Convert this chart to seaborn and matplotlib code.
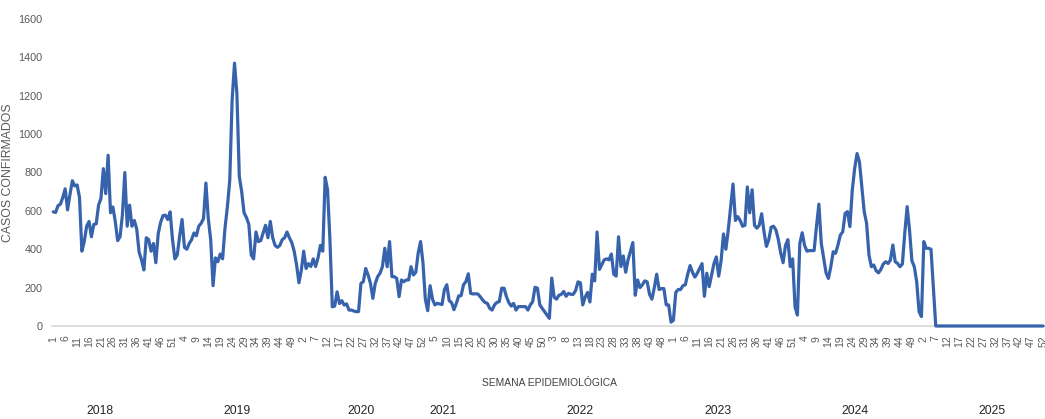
import pandas as pd
import seaborn as sns
import matplotlib.pyplot as plt
from matplotlib import font_manager

# weekly confirmed cases, one list per year (52 epi weeks each)
years = [2018, 2019, 2020, 2021, 2022, 2023, 2024, 2025]

cases_2018 = [595, 592, 627, 635, 670, 715, 605, 685, 757, 730,
              735, 670, 390, 440, 520, 545, 465, 530, 532, 630,
              665, 820, 690, 890, 590, 620, 545, 445, 465, 580,
              800, 520, 630, 520, 550, 505, 385, 345, 292, 460,
              450, 390, 430, 330, 480, 540, 575, 578, 555, 595,
              450, 350]
cases_2019 = [370, 470, 555, 410, 400, 430, 450, 485, 470, 520,
              535, 560, 745, 560, 450, 210, 355, 335, 375, 350,
              510, 620, 760, 1180, 1370, 1210, 780, 700, 590, 565,
              530, 370, 350, 490, 440, 445, 485, 525, 460, 545,
              460, 420, 410, 420, 450, 460, 490, 460, 435, 390,
              320, 225]
cases_2020 = [290, 390, 300, 325, 310, 350, 310, 355, 420, 390,
              775, 710, 450, 100, 104, 178, 117, 132, 109, 115,
              83, 83, 78, 75, 75, 222, 231, 300, 266, 222,
              144, 222, 257, 275, 309, 405, 309, 440, 257, 257,
              248, 153, 240, 231, 240, 240, 309, 266, 280, 380,
              440, 330]
cases_2021 = [140, 80, 210, 140, 110, 118, 115, 112, 190, 215,
              132, 122, 85, 118, 157, 158, 215, 231, 272, 170,
              167, 168, 167, 153, 136, 123, 118, 92, 83, 110,
              123, 127, 197, 197, 153, 122, 104, 118, 83, 101,
              101, 101, 101, 83, 110, 127, 202, 197, 110, 92,
              75, 57]
cases_2022 = [40, 250, 150, 140, 160, 165, 180, 155, 170, 165,
              165, 185, 230, 225, 110, 150, 175, 125, 270, 235,
              490, 295, 320, 345, 350, 345, 375, 270, 260, 465,
              310, 365, 280, 345, 390, 435, 160, 240, 200, 215,
              235, 230, 165, 140, 200, 270, 190, 195, 195, 110,
              110, 20]
cases_2023 = [30, 175, 190, 190, 210, 215, 270, 315, 280, 255,
              275, 300, 325, 155, 275, 205, 265, 325, 360, 260,
              340, 480, 400, 500, 620, 740, 550, 570, 550, 520,
              525, 725, 590, 710, 525, 510, 525, 585, 490, 415,
              450, 515, 520, 500, 450, 380, 330, 420, 450, 310,
              350, 100]
cases_2024 = [57, 430, 486, 420, 390, 393, 393, 393, 521, 635,
              431, 353, 277, 248, 309, 387, 379, 422, 474, 491,
              587, 596, 518, 708, 821, 899, 856, 726, 596, 535,
              370, 309, 318, 288, 277, 295, 323, 335, 326, 344,
              422, 335, 326, 309, 323, 483, 622, 500, 340, 309,
              231, 75]
cases_2025 = [49, 440, 405, 405, 400, 200, 0, 0, 0, 0,
              0, 0, 0, 0, 0, 0, 0, 0, 0, 0,
              0, 0, 0, 0, 0, 0, 0, 0, 0, 0,
              0, 0, 0, 0, 0, 0, 0, 0, 0, 0,
              0, 0, 0, 0, 0, 0, 0, 0, 0, 0,
              0, 0]

all_cases = (cases_2018 + cases_2019 + cases_2020 + cases_2021 +
             cases_2022 + cases_2023 + cases_2024 + cases_2025)
week_labels = [w for _ in years for w in range(1, 53)]

df = pd.DataFrame({'pos': range(len(all_cases)), 'casos': all_cases})

sns.set_style('white')
names = {f.name for f in font_manager.fontManager.ttflist}
narrow = 'Liberation Sans Narrow' if 'Liberation Sans Narrow' in names else 'Liberation Sans'
plt.rcParams['font.family'] = ['Liberation Sans', 'DejaVu Sans']

W, H = 1045, 419
fig = plt.figure(figsize=(W / 100, H / 100), dpi=100)
ax = fig.add_axes([52.3 / W, (H - 326) / H, (W - 52.3) / W, (326 - 19) / H])

sns.lineplot(data=df, x='pos', y='casos', color='#3762AC', linewidth=2.3,
             ax=ax, clip_on=False, zorder=5)

ax.set_xlim(-0.4, 415.8)
ax.set_ylim(0, 1600)

ax.set_xticks(range(0, len(all_cases), 5))
ax.set_xticklabels([week_labels[i] for i in range(0, len(all_cases), 5)],
                   rotation=90, fontsize=7.5, color='#595959')
ax.set_yticks(range(0, 1601, 200))
ax.set_yticklabels([str(v) for v in range(0, 1601, 200)],
                   fontsize=7.8, color='#595959', family=narrow)
ax.tick_params(axis='x', length=0, pad=7)
ax.tick_params(axis='y', length=0, pad=7)

for s in ['left', 'top', 'right']:
    ax.spines[s].set_visible(False)
ax.spines['bottom'].set_color('#d9d9d9')
ax.spines['bottom'].set_linewidth(1.2)
ax.spines['bottom'].set_zorder(1)

ax.set_xlabel('')
ax.set_ylabel('CASOS CONFIRMADOS', fontsize=8.8, color='#595959')
ax.yaxis.set_label_coords((14 - 52.3) / (W - 52.3), 0.5)

fig.text(549 / W, 1 - 383 / H, 'SEMANA EPIDEMIOLÓGICA', ha='center', va='center',
         fontsize=7.4, color='#404040', family=narrow)

# year captions under the week axis
year_x = [100, 237, 361, 443, 580, 718, 855, 992]
for yr, px in zip(years, year_x):
    fig.text(px / W, 1 - 411 / H, str(yr), ha='center', va='center',
             fontsize=8.8, color='#262626', family=narrow)

fig.savefig('out.png', dpi=100)
